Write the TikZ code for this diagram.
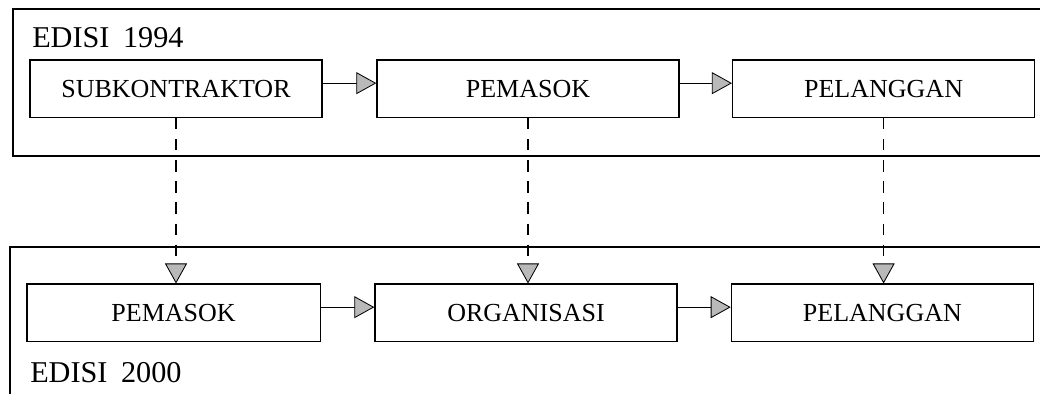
\documentclass[tikz,border=0pt]{standalone}
\usepackage{fontspec}
\setmainfont{Liberation Serif}
\usetikzlibrary{arrows.meta}

\tikzset{
    unitbox/.style={draw, line width=1pt, minimum width=7.55cm, minimum height=1.43cm,
        inner sep=0pt, font=\fontsize{18.5}{22}\selectfont},
    frame/.style={line width=1pt},
    flow/.style={line width=0.9pt, -{Triangle[length=0.5cm, width=0.55cm, fill=gray!55, line width=0.6pt]}},
    change/.style={line width=0.8pt, dash pattern=on 8pt off 7pt,
        -{Triangle[length=0.5cm, width=0.55cm, fill=gray!55, line width=0.6pt, sep=0pt]}},
    edition/.style={anchor=base west, inner sep=0pt, font=\fontsize{21.5}{24}\selectfont}
}

\begin{document}
\begin{tikzpicture}
    \useasboundingbox (0,0) rectangle (26,9.85);

    % Frames
    \draw[frame] (26.3,9.625) -- (0.325,9.625) -- (0.325,5.95) -- (26.3,5.95);
    \draw[frame] (26.3,3.675) -- (0.25,3.675) -- (0.25,-0.3);
    \node[edition] (ed94) at (0.8,8.65) {EDISI\hspace{0.45em}1994};
    \node[edition] (ed00) at (0.75,0.275) {EDISI\hspace{0.45em}2000};

    % Edition 1994 chain
    \node[unitbox, minimum width=7.3cm] (sub) at (4.4,7.63) {SUBKONTRAKTOR};
    \node[unitbox] (sup94) at (13.2,7.63) {PEMASOK};
    \node[unitbox] (cust94) at (22.09,7.63) {PELANGGAN};
    \draw[flow] ([yshift=4pt]sub.east) -- ([yshift=4pt]sup94.west);
    \draw[flow] ([yshift=4pt]sup94.east) -- ([yshift=4pt]cust94.west);

    % Edition 2000 chain
    \node[unitbox, minimum width=7.33cm] (sup00) at (4.34,2.03) {PEMASOK};
    \node[unitbox] (org) at (13.15,2.03) {ORGANISASI};
    \node[unitbox] (cust00) at (22.06,2.03) {PELANGGAN};
    \draw[flow] ([yshift=4pt]sup00.east) -- ([yshift=4pt]org.west);
    \draw[flow] ([yshift=4pt]org.east) -- ([yshift=4pt]cust00.west);

    % Changes between editions
    \draw[change] (sub.south) -- (sub.south |- sup00.north);
    \draw[change] (sup94.south) -- (sup94.south |- org.north);
    \draw[change] (cust94.south) -- (cust94.south |- cust00.north);
\end{tikzpicture}
\end{document}
